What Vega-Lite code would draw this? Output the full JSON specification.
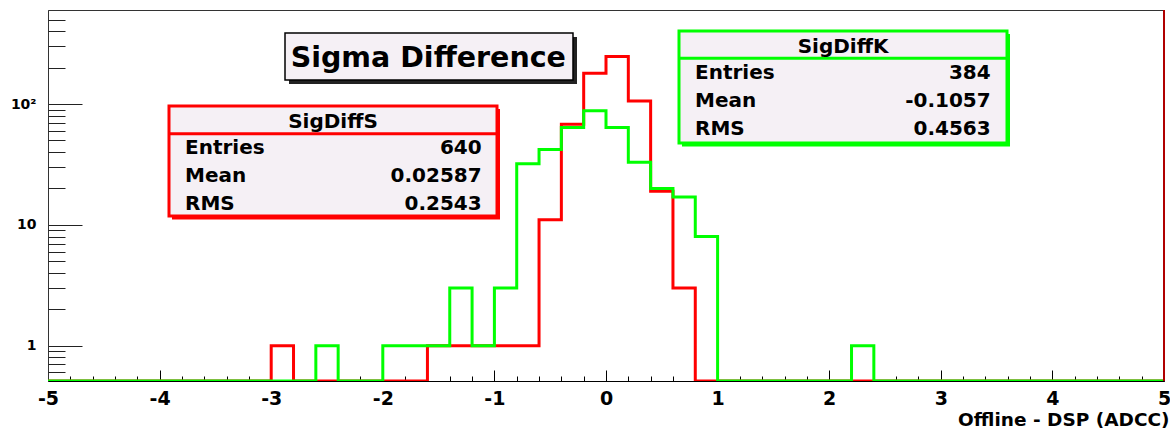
{
  "$schema": "https://vega.github.io/schema/vega-lite/v6.json",
  "width": 1116,
  "height": 371,
  "autosize": {"type": "none"},
  "padding": {"left": 48, "top": 10, "right": 6, "bottom": 48},
  "background": "white",
  "config": {"view": {"stroke": "#333333", "strokeWidth": 1}, "font": "DejaVu Sans"},
  "resolve": {"axis": {"x": "independent", "y": "independent"}},
  "data": {"values": [
    {"lo": -5, "S": 0, "K": 0},
    {"lo": -4.8, "S": 0, "K": 0},
    {"lo": -4.6, "S": 0, "K": 0},
    {"lo": -4.4, "S": 0, "K": 0},
    {"lo": -4.2, "S": 0, "K": 0},
    {"lo": -4, "S": 0, "K": 0},
    {"lo": -3.8, "S": 0, "K": 0},
    {"lo": -3.6, "S": 0, "K": 0},
    {"lo": -3.4, "S": 0, "K": 0},
    {"lo": -3.2, "S": 0, "K": 0},
    {"lo": -3, "S": 1, "K": 0},
    {"lo": -2.8, "S": 0, "K": 0},
    {"lo": -2.6, "S": 0, "K": 1},
    {"lo": -2.4, "S": 0, "K": 0},
    {"lo": -2.2, "S": 0, "K": 0},
    {"lo": -2, "S": 0, "K": 1},
    {"lo": -1.8, "S": 0, "K": 1},
    {"lo": -1.6, "S": 1, "K": 1},
    {"lo": -1.4, "S": 1, "K": 3},
    {"lo": -1.2, "S": 1, "K": 1},
    {"lo": -1, "S": 1, "K": 3},
    {"lo": -0.8, "S": 1, "K": 32},
    {"lo": -0.6, "S": 11, "K": 42},
    {"lo": -0.4, "S": 68, "K": 64},
    {"lo": -0.2, "S": 180, "K": 88},
    {"lo": 0, "S": 247, "K": 64},
    {"lo": 0.2, "S": 106, "K": 33},
    {"lo": 0.4, "S": 19, "K": 20},
    {"lo": 0.6, "S": 3, "K": 17},
    {"lo": 0.8, "S": 0, "K": 8},
    {"lo": 1, "S": 0, "K": 0},
    {"lo": 1.2, "S": 0, "K": 0},
    {"lo": 1.4, "S": 0, "K": 0},
    {"lo": 1.6, "S": 0, "K": 0},
    {"lo": 1.8, "S": 0, "K": 0},
    {"lo": 2, "S": 0, "K": 0},
    {"lo": 2.2, "S": 0, "K": 1},
    {"lo": 2.4, "S": 0, "K": 0},
    {"lo": 2.6, "S": 0, "K": 0},
    {"lo": 2.8, "S": 0, "K": 0},
    {"lo": 3, "S": 0, "K": 0},
    {"lo": 3.2, "S": 0, "K": 0},
    {"lo": 3.4, "S": 0, "K": 0},
    {"lo": 3.6, "S": 0, "K": 0},
    {"lo": 3.8, "S": 0, "K": 0},
    {"lo": 4, "S": 0, "K": 0},
    {"lo": 4.2, "S": 0, "K": 0},
    {"lo": 4.4, "S": 0, "K": 0},
    {"lo": 4.6, "S": 0, "K": 0},
    {"lo": 4.8, "S": 0, "K": 0},
    {"lo": 5, "S": 0, "K": 0}
  ]},
  "layer": [
    {
      "mark": {"type": "line", "interpolate": "step-after", "color": "#ff0000", "strokeWidth": 3, "invalid": "show", "clip": true},
      "encoding": {
        "x": {
          "field": "lo", "type": "quantitative",
          "scale": {"domain": [-5, 5], "nice": false, "zero": false},
          "axis": {
            "orient": "bottom",
            "title": "Offline - DSP (ADCC)",
            "values": [-5, -4, -3, -2, -1, 0, 1, 2, 3, 4, 5],
            "labelExpr": "'' + datum.value",
            "labelFont": "DejaVu Sans", "labelFontWeight": "bold", "labelFontSize": 19, "labelColor": "#000000",
            "labelBaseline": "middle", "labelPadding": 28,
            "labelOverlap": false, "labelFlush": false, "labelBound": false,
            "tickSize": -11, "tickColor": "#000000", "tickWidth": 1,
            "domainColor": "#000000", "domainWidth": 1,
            "grid": false,
            "titleFont": "DejaVu Sans", "titleFontWeight": "bold", "titleFontSize": 18.5, "titleColor": "#000000",
            "titleAnchor": "end", "titleAlign": "right", "titleBaseline": "alphabetic", "titleX": 1121, "titleY": 44
          }
        },
        "y": {
          "field": "S", "type": "quantitative",
          "scale": {"type": "log", "domain": [0.51, 600], "clamp": true, "nice": false},
          "axis": {
            "orient": "left",
            "title": null,
            "values": [1, 10, 100],
            "labelExpr": "datum.value == 1 ? '1' : datum.value == 10 ? '10' : '10²'",
            "labelFont": "DejaVu Sans", "labelFontWeight": "bold", "labelFontSize": 14, "labelColor": "#000000",
            "labelAlign": "right", "labelBaseline": "middle", "labelPadding": 46,
            "labelOverlap": false, "labelFlush": false, "labelBound": false,
            "tickSize": -34, "tickColor": "#222222", "tickWidth": 1,
            "domainColor": "#333333", "domainWidth": 1,
            "grid": false
          }
        }
      }
    },
    {
      "mark": {"type": "line", "interpolate": "step-after", "color": "#00ff00", "strokeWidth": 3, "invalid": "show", "clip": true},
      "encoding": {
        "x": {
          "field": "lo", "type": "quantitative",
          "axis": {
            "orient": "bottom", "title": null, "labels": false, "domain": false, "grid": false,
            "values": [-4.8,-4.6,-4.4,-4.2,-3.8,-3.6,-3.4,-3.2,-2.8,-2.6,-2.4,-2.2,-1.8,-1.6,-1.4,-1.2,-0.8,-0.6,-0.4,-0.2,0.2,0.4,0.6,0.8,1.2,1.4,1.6,1.8,2.2,2.4,2.6,2.8,3.2,3.4,3.6,3.8,4.2,4.4,4.6,4.8],
            "tickSize": -5, "tickColor": "#000000", "tickWidth": 1
          }
        },
        "y": {
          "field": "K", "type": "quantitative",
          "axis": {
            "orient": "left", "title": null, "labels": false, "domain": false, "grid": false,
            "values": [0.6, 0.7, 0.8, 0.9, 2, 3, 4, 5, 6, 7, 8, 9, 20, 30, 40, 50, 60, 70, 80, 90, 200, 300, 400, 500],
            "tickSize": -17, "tickColor": "#222222", "tickWidth": 1
          }
        }
      }
    },
    {
      "data": {"values": [{}]},
      "mark": {"type": "rect", "fill": "#222222"},
      "encoding": {"x": {"datum": -2.8405, "axis": null}, "x2": {"datum": -0.2599}, "y": {"datum": 358.6, "axis": null}, "y2": {"datum": 146.5}}
    },
    {
      "data": {"values": [{}]},
      "mark": {"type": "rect", "fill": "#f5f0f5", "stroke": "#000000", "strokeWidth": 1.5},
      "encoding": {"x": {"datum": -2.8763, "axis": null}, "x2": {"datum": -0.2957}, "y": {"datum": 387.1, "axis": null}, "y2": {"datum": 158.1}}
    },
    {
      "data": {"values": [{"t": "Sigma Difference"}]},
      "mark": {"type": "text", "font": "DejaVu Sans", "fontWeight": "bold", "fontSize": 28.5, "align": "center", "baseline": "alphabetic", "color": "#000000"},
      "encoding": {"text": {"field": "t"}, "x": {"datum": -1.5923, "axis": null}, "y": {"datum": 204.4, "axis": null}}
    },
    {
      "data": {"values": [{}]},
      "mark": {"type": "rect", "fill": "#ff0000"},
      "encoding": {"x": {"datum": -3.8889, "axis": null}, "x2": {"datum": -0.9498}, "y": {"datum": 90.9, "axis": null}, "y2": {"datum": 11.07}}
    },
    {
      "data": {"values": [{}]},
      "mark": {"type": "rect", "fill": "#f5f0f5", "stroke": "#ff0000", "strokeWidth": 3},
      "encoding": {"x": {"datum": -3.9158, "axis": null}, "x2": {"datum": -0.9767}, "y": {"datum": 96.3, "axis": null}, "y2": {"datum": 11.84}}
    },
    {
      "data": {"values": [{}]},
      "mark": {"type": "rule", "color": "#ff0000", "strokeWidth": 3},
      "encoding": {"x": {"datum": -3.9158, "axis": null}, "x2": {"datum": -0.9767}, "y": {"datum": 56.8, "axis": null}}
    },
    {
      "data": {"values": [{"t": "SigDiffS"}]},
      "mark": {"type": "text", "font": "DejaVu Sans", "fontWeight": "bold", "fontSize": 20, "align": "center", "baseline": "alphabetic", "color": "#000000"},
      "encoding": {"text": {"field": "t"}, "x": {"datum": -2.4462, "axis": null}, "y": {"datum": 62.95, "axis": null}}
    },
    {
      "data": {"values": [{"t": "Entries\nMean\nRMS"}]},
      "mark": {"type": "text", "font": "DejaVu Sans", "fontWeight": "bold", "fontSize": 20, "align": "left", "baseline": "alphabetic", "lineBreak": "\n", "lineHeight": 27.8, "color": "#000000"},
      "encoding": {"text": {"field": "t"}, "x": {"datum": -3.7724, "axis": null}, "y": {"datum": 38.36, "axis": null}}
    },
    {
      "data": {"values": [{"t": "640\n0.02587\n0.2543"}]},
      "mark": {"type": "text", "font": "DejaVu Sans", "fontWeight": "bold", "fontSize": 20, "align": "right", "baseline": "alphabetic", "lineBreak": "\n", "lineHeight": 27.8, "color": "#000000"},
      "encoding": {"text": {"field": "t"}, "x": {"datum": -1.1138, "axis": null}, "y": {"datum": 38.36, "axis": null}}
    },
    {
      "data": {"values": [{}]},
      "mark": {"type": "rect", "fill": "#00ff00"},
      "encoding": {"x": {"datum": 0.681, "axis": null}, "x2": {"datum": 3.6201}, "y": {"datum": 379.8, "axis": null}, "y2": {"datum": 44.5}}
    },
    {
      "data": {"values": [{}]},
      "mark": {"type": "rect", "fill": "#f5f0f5", "stroke": "#00ff00", "strokeWidth": 3},
      "encoding": {"x": {"datum": 0.6541, "axis": null}, "x2": {"datum": 3.5932}, "y": {"datum": 402.2, "axis": null}, "y2": {"datum": 47.58}}
    },
    {
      "data": {"values": [{}]},
      "mark": {"type": "rule", "color": "#00ff00", "strokeWidth": 3},
      "encoding": {"x": {"datum": 0.6541, "axis": null}, "x2": {"datum": 3.5932}, "y": {"datum": 239.0, "axis": null}}
    },
    {
      "data": {"values": [{"t": "SigDiffK"}]},
      "mark": {"type": "text", "font": "DejaVu Sans", "fontWeight": "bold", "fontSize": 20, "align": "center", "baseline": "alphabetic", "color": "#000000"},
      "encoding": {"text": {"field": "t"}, "x": {"datum": 2.1237, "axis": null}, "y": {"datum": 265.9, "axis": null}}
    },
    {
      "data": {"values": [{"t": "Entries\nMean\nRMS"}]},
      "mark": {"type": "text", "font": "DejaVu Sans", "fontWeight": "bold", "fontSize": 20, "align": "left", "baseline": "alphabetic", "lineBreak": "\n", "lineHeight": 27.8, "color": "#000000"},
      "encoding": {"text": {"field": "t"}, "x": {"datum": 0.7975, "axis": null}, "y": {"datum": 160.2, "axis": null}}
    },
    {
      "data": {"values": [{"t": "384\n-0.1057\n0.4563"}]},
      "mark": {"type": "text", "font": "DejaVu Sans", "fontWeight": "bold", "fontSize": 20, "align": "right", "baseline": "alphabetic", "lineBreak": "\n", "lineHeight": 27.8, "color": "#000000"},
      "encoding": {"text": {"field": "t"}, "x": {"datum": 3.4471, "axis": null}, "y": {"datum": 160.2, "axis": null}}
    },
    {
      "data": {"values": [{}]},
      "mark": {"type": "rule", "color": "#b00000", "strokeWidth": 2},
      "encoding": {"x": {"datum": 5, "axis": null}}
    }
  ]
}
